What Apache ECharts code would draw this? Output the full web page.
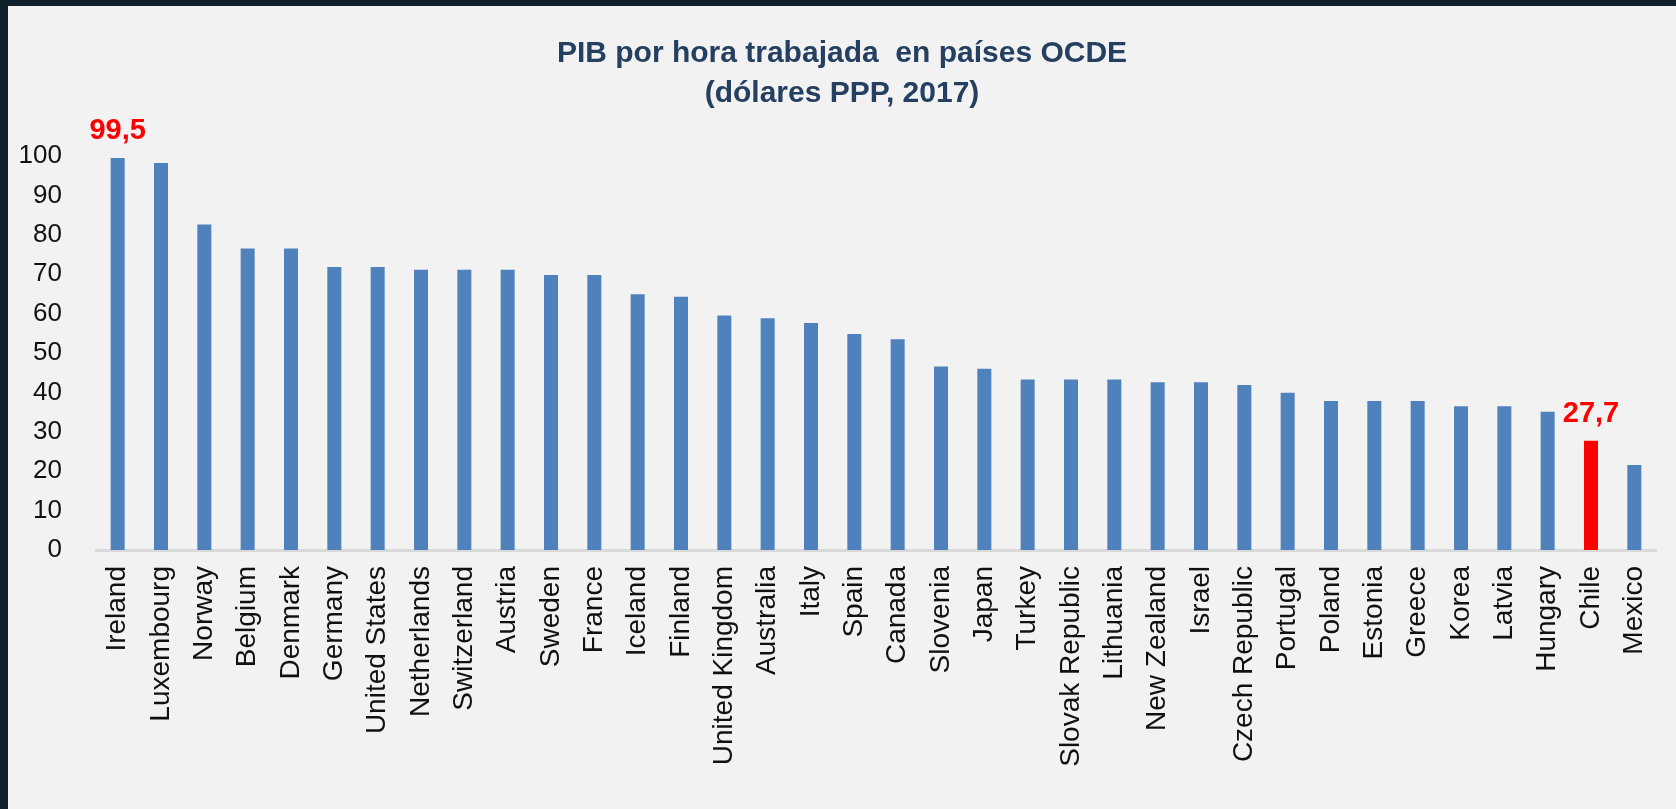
<!DOCTYPE html>
<html>
<head>
<meta charset="utf-8">
<title>PIB por hora trabajada</title>
<script src="https://cdn.jsdelivr.net/npm/echarts@6/dist/echarts.min.js"></script>
<style>
  html, body { margin: 0; padding: 0; width: 100%; height: 100%; background: #0e2029; overflow: hidden; }
  #chart { position: absolute; left: 8px; top: 6px; right: 0; bottom: 0; background: #f2f2f2; }
</style>
</head>
<body>
<div id="chart"></div>
<script>
// países OCDE, ordenados de mayor a menor
const countries = [
  "Ireland", "Luxembourg", "Norway", "Belgium", "Denmark", "Germany",
  "United States", "Netherlands", "Switzerland", "Austria", "Sweden", "France",
  "Iceland", "Finland", "United Kingdom", "Australia", "Italy", "Spain",
  "Canada", "Slovenia", "Japan", "Turkey", "Slovak Republic", "Lithuania",
  "New Zealand", "Israel", "Czech Republic", "Portugal", "Poland", "Estonia",
  "Greece", "Korea", "Latvia", "Hungary", "Chile", "Mexico"
];
// PIB por hora trabajada (dólares PPP, 2017)
const gdpPerHour = [
  99.5, 98.2, 82.6, 76.5, 76.5, 71.8,
  71.8, 71.1, 71.1, 71.1, 69.8, 69.8,
  64.9, 64.3, 59.5, 58.8, 57.6, 54.8,
  53.5, 46.6, 46.0, 43.3, 43.3, 43.3,
  42.6, 42.6, 41.9, 39.9, 37.8, 37.8,
  37.8, 36.5, 36.5, 35.1, 27.7, 21.6
];
// barras destacadas con etiqueta
const highlighted = ["Ireland", "Chile"];
const redBars = ["Chile"];
const yTicks = [0, 10, 20, 30, 40, 50, 60, 70, 80, 90, 100];

const chart = echarts.init(document.getElementById("chart"));
const FONT = "'Liberation Sans', Arial, sans-serif";

let barData = countries.map((name, i) => {
  let item = { value: gdpPerHour[i] };
  if (redBars.indexOf(name) >= 0) {
    item.itemStyle = { color: "#ff0000" };
  }
  if (highlighted.indexOf(name) >= 0) {
    item.label = {
      show: true,
      position: "top",
      distance: 12,
      color: "#ff0000",
      fontFamily: FONT,
      fontWeight: "bold",
      fontSize: 29,
      formatter: p => String(p.value).replace(".", ",")
    };
  }
  return item;
});

let option = {
  animation: false,
  title: {
    text: "PIB por hora trabajada  en países OCDE\n(dólares PPP, 2017)",
    left: "center",
    top: 23,
    textStyle: {
      color: "#243f60",
      fontFamily: FONT,
      fontWeight: "bold",
      fontSize: 30,
      lineHeight: 40
    }
  },
  grid: {
    left: 88,
    right: 20,
    top: 150,
    bottom: 259,
    containLabel: false
  },
  xAxis: {
    type: "category",
    data: countries,
    axisLine: { lineStyle: { color: "#d9d9d9", width: 3 } },
    axisTick: { show: false },
    axisLabel: {
      rotate: 90,
      interval: 0,
      margin: 16,
      color: "#111",
      fontFamily: FONT,
      fontSize: 28
    }
  },
  yAxis: {
    type: "value",
    min: yTicks[0],
    max: yTicks[yTicks.length - 1],
    interval: 10,
    axisLine: { show: false },
    axisTick: { show: false },
    splitLine: { show: false },
    axisLabel: {
      margin: 34,
      padding: [6, 0, 0, 0],
      color: "#111",
      fontFamily: FONT,
      fontSize: 26
    }
  },
  series: [
    {
      type: "bar",
      barWidth: 14,
      data: barData,
      itemStyle: { color: "#4f81bd" }
    }
  ]
};
chart.setOption(option);
</script>
</body>
</html>
